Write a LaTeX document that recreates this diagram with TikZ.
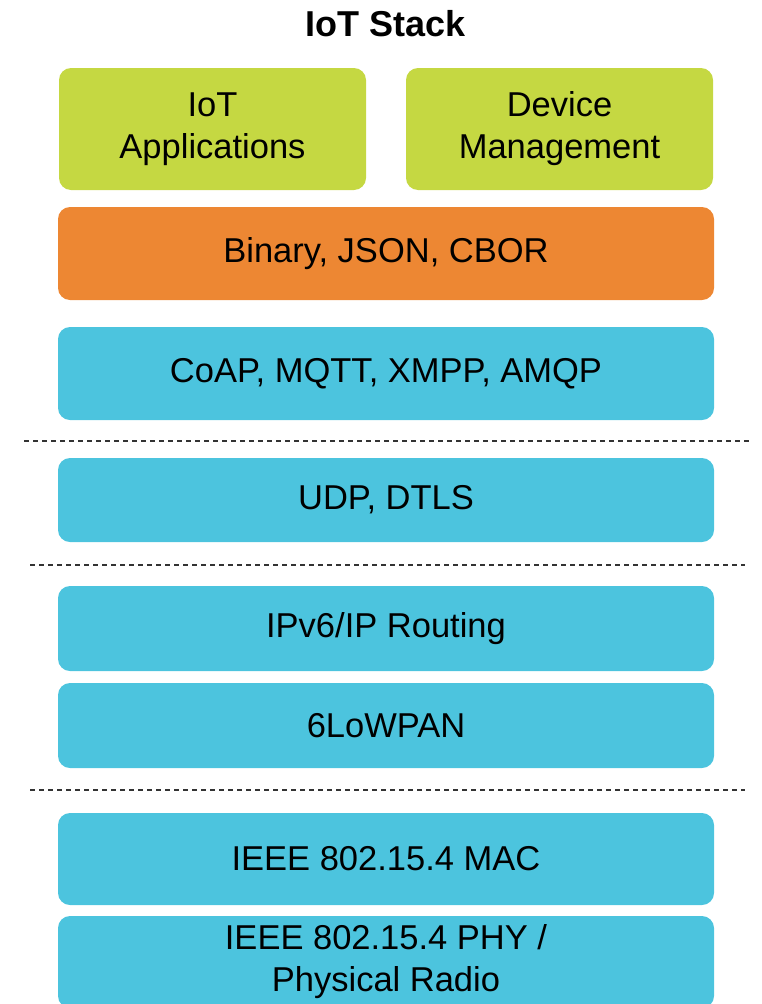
\documentclass[tikz,border=0pt]{standalone}
\usepackage{fontspec}
\setmainfont{Liberation Sans}
\usepackage{tikz}
\usetikzlibrary{calc}

\definecolor{appgreen}{RGB}{197,216,66}
\definecolor{fmtorange}{RGB}{237,135,51}
\definecolor{netblue}{RGB}{76,196,222}

\tikzset{
  layerbox/.style={rounded corners=12pt, inner sep=0pt, minimum width=656pt, align=center, font=\fontsize{34.5}{42}\selectfont},
  sepline/.style={dash pattern=on 5pt off 4pt, line width=2.4pt, color=black!80}
}

\begin{document}
\begin{tikzpicture}[x=1pt,y=1pt,yscale=-1]
  \useasboundingbox (0,0) rectangle (761,1004);

  % Title
  \node (title) at (386,24) {\fontsize{36}{42}\selectfont\bfseries IoT Stack};

  %Shape: Rectangle [id:apps]
  \node (apps) [layerbox, fill=appgreen, minimum width=307pt, minimum height=122pt] at (212.5,129) {IoT\\Applications};
  %Shape: Rectangle [id:mgmt]
  \node (mgmt) [layerbox, fill=appgreen, minimum width=307pt, minimum height=122pt] at (559.5,129) {Device\\Management};
  %Shape: Rectangle [id:format]
  \node (format) [layerbox, fill=fmtorange, minimum height=93pt] at (386,253.5) {Binary, JSON, CBOR};
  %Shape: Rectangle [id:proto]
  \node (proto) [layerbox, fill=netblue, minimum height=93pt] at (386,373.5) {CoAP, MQTT, XMPP, AMQP};
  %Shape: Rectangle [id:udp]
  \node (udp) [layerbox, fill=netblue, minimum height=84pt] at (386,500) {UDP, DTLS};
  %Shape: Rectangle [id:ipv6]
  \node (ipv6) [layerbox, fill=netblue, minimum height=85pt] at (386,628.5) {IPv6/IP Routing};
  %Shape: Rectangle [id:lowpan]
  \node (lowpan) [layerbox, fill=netblue, minimum height=85pt] at (386,725.5) {6LoWPAN};
  %Shape: Rectangle [id:mac]
  \node (mac) [layerbox, fill=netblue, minimum height=92pt] at (386,859) {IEEE 802.15.4 MAC};
  %Shape: Rectangle [id:phy]
  \node (phy) [layerbox, fill=netblue, minimum height=92pt] at (386,962) {IEEE 802.15.4 PHY /\\Physical Radio};

  % Dashed separators
  \draw [sepline] (24,441) -- (750,441);
  \draw [sepline] (30,565) -- (745,565);
  \draw [sepline] (30,790) -- (745,790);
\end{tikzpicture}
\end{document}
